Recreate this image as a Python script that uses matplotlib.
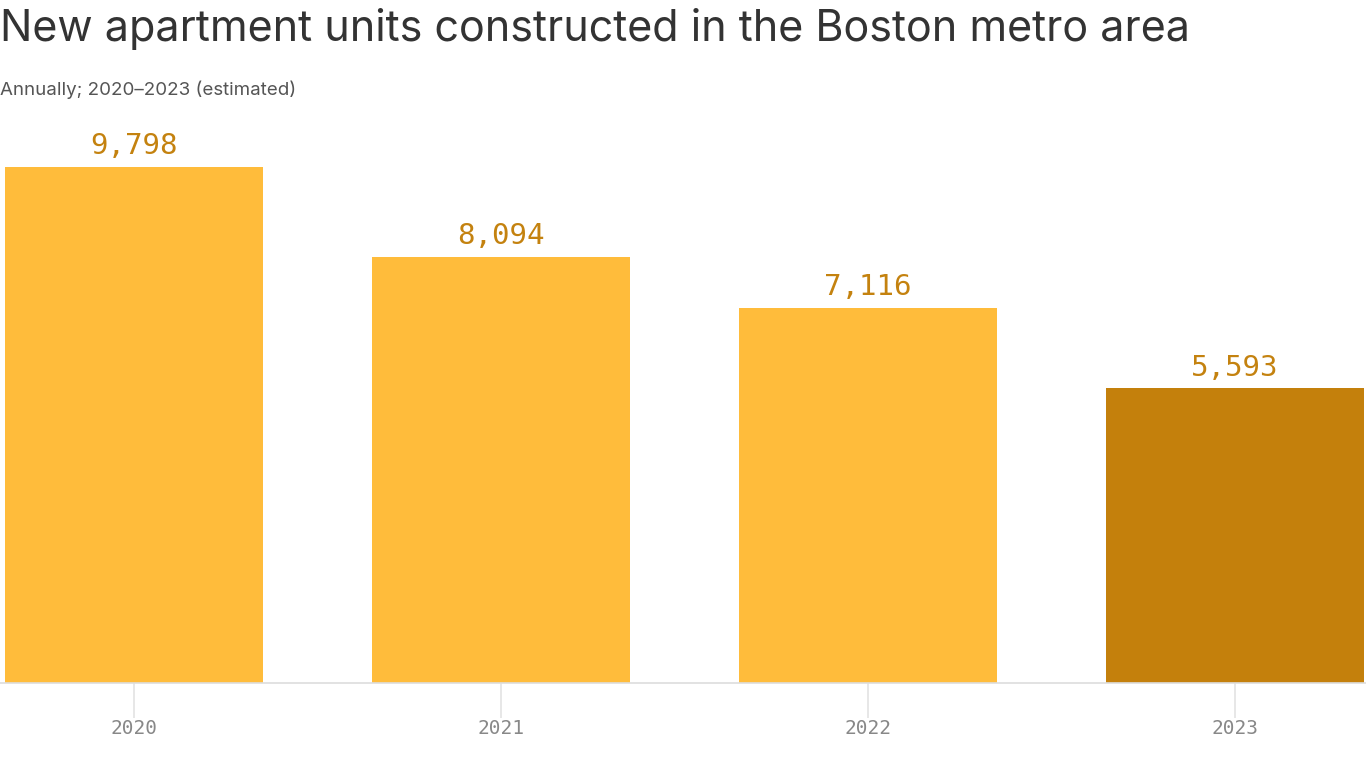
import matplotlib
matplotlib.use("Agg")
import matplotlib.pyplot as plt

years = ["2020", "2021", "2022", "2023"]
units = [9798, 8094, 7116, 5593]
bar_colors = ["#FFBC3B", "#FFBC3B", "#FFBC3B", "#C4800C"]

title = "New apartment units constructed in the Boston metro area"
subtitle = "Annually; 2020–2023 (estimated)"

W, H = 1366, 768
fig = plt.figure(figsize=(W / 100, H / 100), dpi=100)

base_y = 683
top_y = 100
ax = fig.add_axes([0, (H - base_y) / H, 1, (base_y - top_y) / H])

px_per_unit = (683 - 167) / 9798
ax.set_ylim(0, (base_y - top_y) / px_per_unit)
spacing = 367
ax.set_xlim(-134 / spacing, (W - 134) / spacing)

x = list(range(len(years)))
ax.bar(x, units, width=258 / spacing, color=bar_colors, zorder=2)

for xi, v in zip(x, units):
    ax.annotate(f"{v:,}", (xi, v), xytext=(0, 5), textcoords="offset points",
                ha="center", va="bottom", fontsize=21, color="#C4820F",
                family="DejaVu Sans Mono")

for s in ["top", "right", "left"]:
    ax.spines[s].set_visible(False)
ax.spines["bottom"].set_color("#DDDDDD")
ax.spines["bottom"].set_linewidth(1.2)
ax.set_yticks([])
ax.set_xticks(x)
ax.set_xticklabels(years, family="DejaVu Sans Mono", fontsize=14, color="#888888")
ax.tick_params(axis="x", length=25, width=1.2, color="#E3E3E3", pad=1)

fig.text(0, 1 - 29 / H, title, fontsize=31, color="#333333", family="Inter",
         ha="left", va="center")
fig.text(0, 1 - 90 / H, subtitle, fontsize=13.5, color="#555555", family="Inter",
         ha="left", va="center")

fig.savefig("out.png", dpi=100)
